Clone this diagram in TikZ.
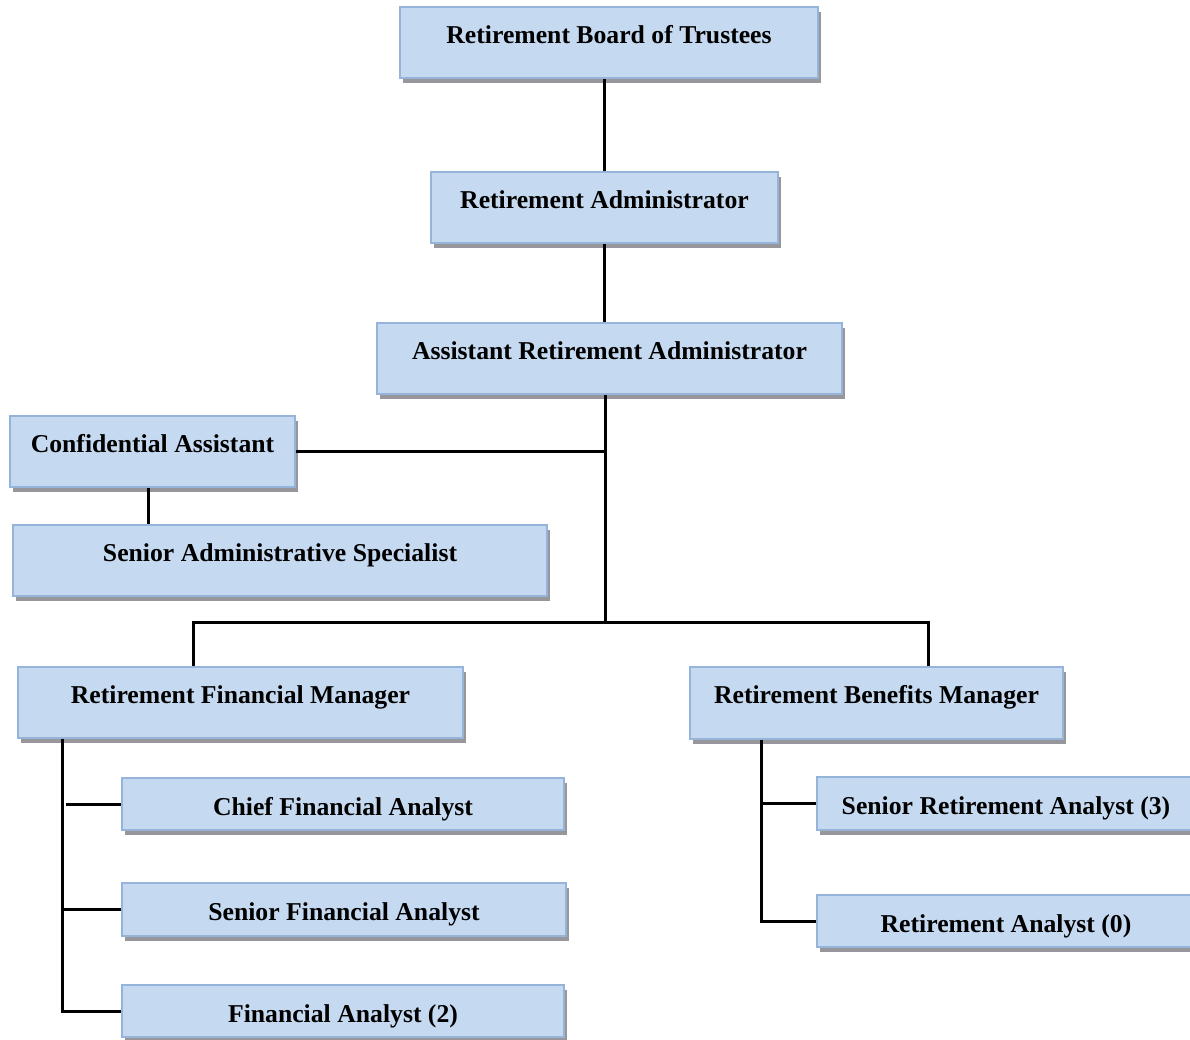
\documentclass[tikz,border=0pt]{standalone}
\usepackage{fontspec}
\setmainfont{Liberation Serif}
\usetikzlibrary{shadows}
\definecolor{boxfill}{RGB}{197,217,240}
\definecolor{boxline}{RGB}{150,180,218}
\definecolor{shad}{RGB}{150,150,155}
\tikzset{
  orgbox/.style={rectangle, draw=boxline, line width=2pt, fill=boxfill, inner sep=0pt,
    font=\fontsize{25.7}{30}\selectfont\bfseries, text=black,
    drop shadow={shadow xshift=3pt, shadow yshift=-5pt, fill=shad, opacity=1}},
  tall/.style={text height=17pt, text depth=16pt},
  short/.style={text height=24pt, text depth=2pt},
  link/.style={line width=3pt, black}
}
\begin{document}
\begin{tikzpicture}[x=1pt,y=-1pt]
\useasboundingbox[fill=white] (0,0) rectangle (1190,1039);
\node[orgbox,tall,minimum width=418pt,minimum height=71pt] (board) at (609,42.5) {Retirement Board of Trustees};
\node[orgbox,tall,minimum width=347pt,minimum height=71pt] (admin) at (604.5,207.5) {Retirement Administrator};
\node[orgbox,tall,minimum width=465pt,minimum height=71pt] (asst) at (609.5,358.5) {Assistant Retirement Administrator};
\node[orgbox,tall,minimum width=285pt,minimum height=71pt] (conf) at (152.5,451.5) {Confidential Assistant};
\node[orgbox,tall,minimum width=534pt,minimum height=71pt] (sas) at (280,560.5) {Senior Administrative Specialist};
\node[orgbox,tall,minimum width=445pt,minimum height=71pt] (rfm) at (240.5,702.5) {Retirement Financial Manager};
\node[orgbox,tall,minimum width=373pt,minimum height=72pt] (rbm) at (876.5,703) {Retirement Benefits Manager};
\node[orgbox,short,minimum width=442pt,minimum height=52pt] (cfa) at (343,804) {Chief Financial Analyst};
\node[orgbox,short,minimum width=444pt,minimum height=53pt] (sfa) at (344,909.5) {Senior Financial Analyst};
\node[orgbox,short,minimum width=442pt,minimum height=52pt] (fa) at (343,1011) {Financial Analyst (2)};
\node[orgbox,short,minimum width=378pt,minimum height=53pt] (sra) at (1006,803.5) {Senior Retirement Analyst (3)};
\node[orgbox,short,minimum width=378pt,minimum height=52pt] (ra) at (1006,921) {Retirement Analyst (0)};
\coordinate (bus) at (605,622);
\coordinate (bl) at (193,622);
\coordinate (br) at (928,622);
\coordinate (tl) at (62,0);
\coordinate (tr) at (761,0);
\coordinate (cs) at (148,0);
\draw[link] (admin.north |- board.south) -- (admin.north);
\draw[link] (admin.south) -- (admin.south |- asst.north);
\draw[link] (bus |- asst.south) -- (bus);
\draw[link] (conf.east) -- (conf.east -| bus);
\draw[link] (cs |- conf.south) -- (cs |- sas.north);
\draw[link] (bl |- rfm.north) -- (bl) -- (br) -- (br |- rbm.north);
\draw[link] (tl |- rfm.south) -- (tl |- fa.west) -- (fa.west);
\draw[link] (tl |- sfa.west) -- (sfa.west);
\draw[link] ([xshift=4pt]tl |- cfa.west) -- (cfa.west);
\draw[link] (tr |- rbm.south) -- (tr |- ra.west) -- (ra.west);
\draw[link] (tr |- sra.west) -- (sra.west);
\end{tikzpicture}
\end{document}
